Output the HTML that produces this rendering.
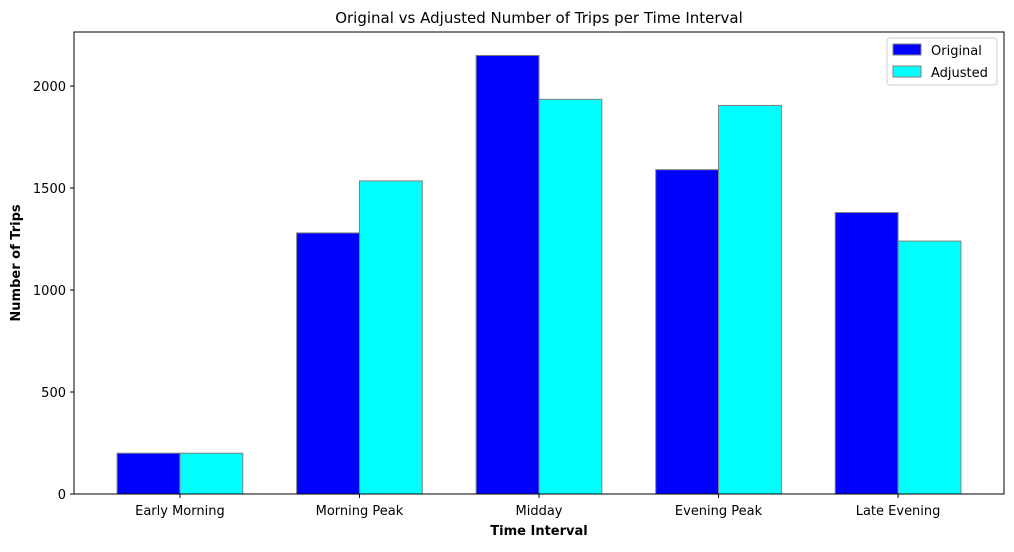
<!DOCTYPE html>
<html><head><meta charset="utf-8"><style>
body{margin:0;background:#fff;font-family:"Liberation Sans","DejaVu Sans",sans-serif;}
svg text{font-family:"DejaVu Sans","Liberation Sans",sans-serif;}
</style></head><body>
<svg id="chart" width="1014" height="547" xmlns="http://www.w3.org/2000/svg">
<rect width="1014" height="547" fill="#fff"/>
<text x="539" y="23" text-anchor="middle" font-size="15">Original vs Adjusted Number of Trips per Time Interval</text>
<g id="bars"></g>
<g id="axes"></g>
<text x="539" y="535" text-anchor="middle" font-size="13" font-weight="bold">Time Interval</text>
<text transform="translate(20,263) rotate(-90)" text-anchor="middle" font-size="13" font-weight="bold">Number of Trips</text>
<g>
<rect x="887" y="38" width="110" height="47" fill="#fff" stroke="#ccc" rx="3"/>
<rect x="893" y="44" width="28" height="11" fill="#0000ff" stroke="#808080"/>
<text x="931" y="55" font-size="13">Original</text>
<rect x="893" y="66" width="28" height="11" fill="#00ffff" stroke="#808080"/>
<text x="931" y="77" font-size="13">Adjusted</text>
</g>
</svg>
<script>
const categories=["Early Morning","Morning Peak","Midday","Evening Peak","Late Evening"];
const original=[200,1280,2150,1590,1380];
const adjusted=[200,1535,1935,1905,1240];
const yTicks=[0,500,1000,1500,2000];
const L=74,R=1004,T=32,B=494,yMax=2265,xMin=-0.59,xMax=4.59,bw=0.35;
const ns="http://www.w3.org/2000/svg";
const y=v=>B-(v/yMax)*(B-T);
const x=v=>L+(v-xMin)/(xMax-xMin)*(R-L);
const bars=document.getElementById('bars'),axes=document.getElementById('axes');
function mk(t,a,p){const e=document.createElementNS(ns,t);for(const k in a)e.setAttribute(k,a[k]);p.appendChild(e);return e;}
categories.forEach((c,i)=>{
  [[original,'#0000ff',-bw,'original'],[adjusted,'#00ffff',0,'adjusted']].forEach(([s,col,off,n])=>{
    const r=mk('rect',{x:x(i+off),y:y(s[i]),width:x(i+off+bw)-x(i+off),height:B-y(s[i]),fill:col,stroke:'#808080'},bars);
    
    
  });
  mk('line',{x1:x(i),x2:x(i),y1:B,y2:B+4,stroke:'#000'},axes);
  const t=mk('text',{x:x(i),y:B+21,'text-anchor':'middle','font-size':13},axes);
  t.textContent=c;
  
  
});
yTicks.forEach(v=>{
  mk('line',{x1:L-4,x2:L,y1:y(v),y2:y(v),stroke:'#000'},axes);
  const t=mk('text',{x:L-8,y:y(v)+5,'text-anchor':'end','font-size':13},axes);
  t.textContent=v;
  
  
});
const f=mk('rect',{x:L,y:T,width:R-L,height:B-T,fill:'none',stroke:'#000'},axes);


</script>
</body></html>
